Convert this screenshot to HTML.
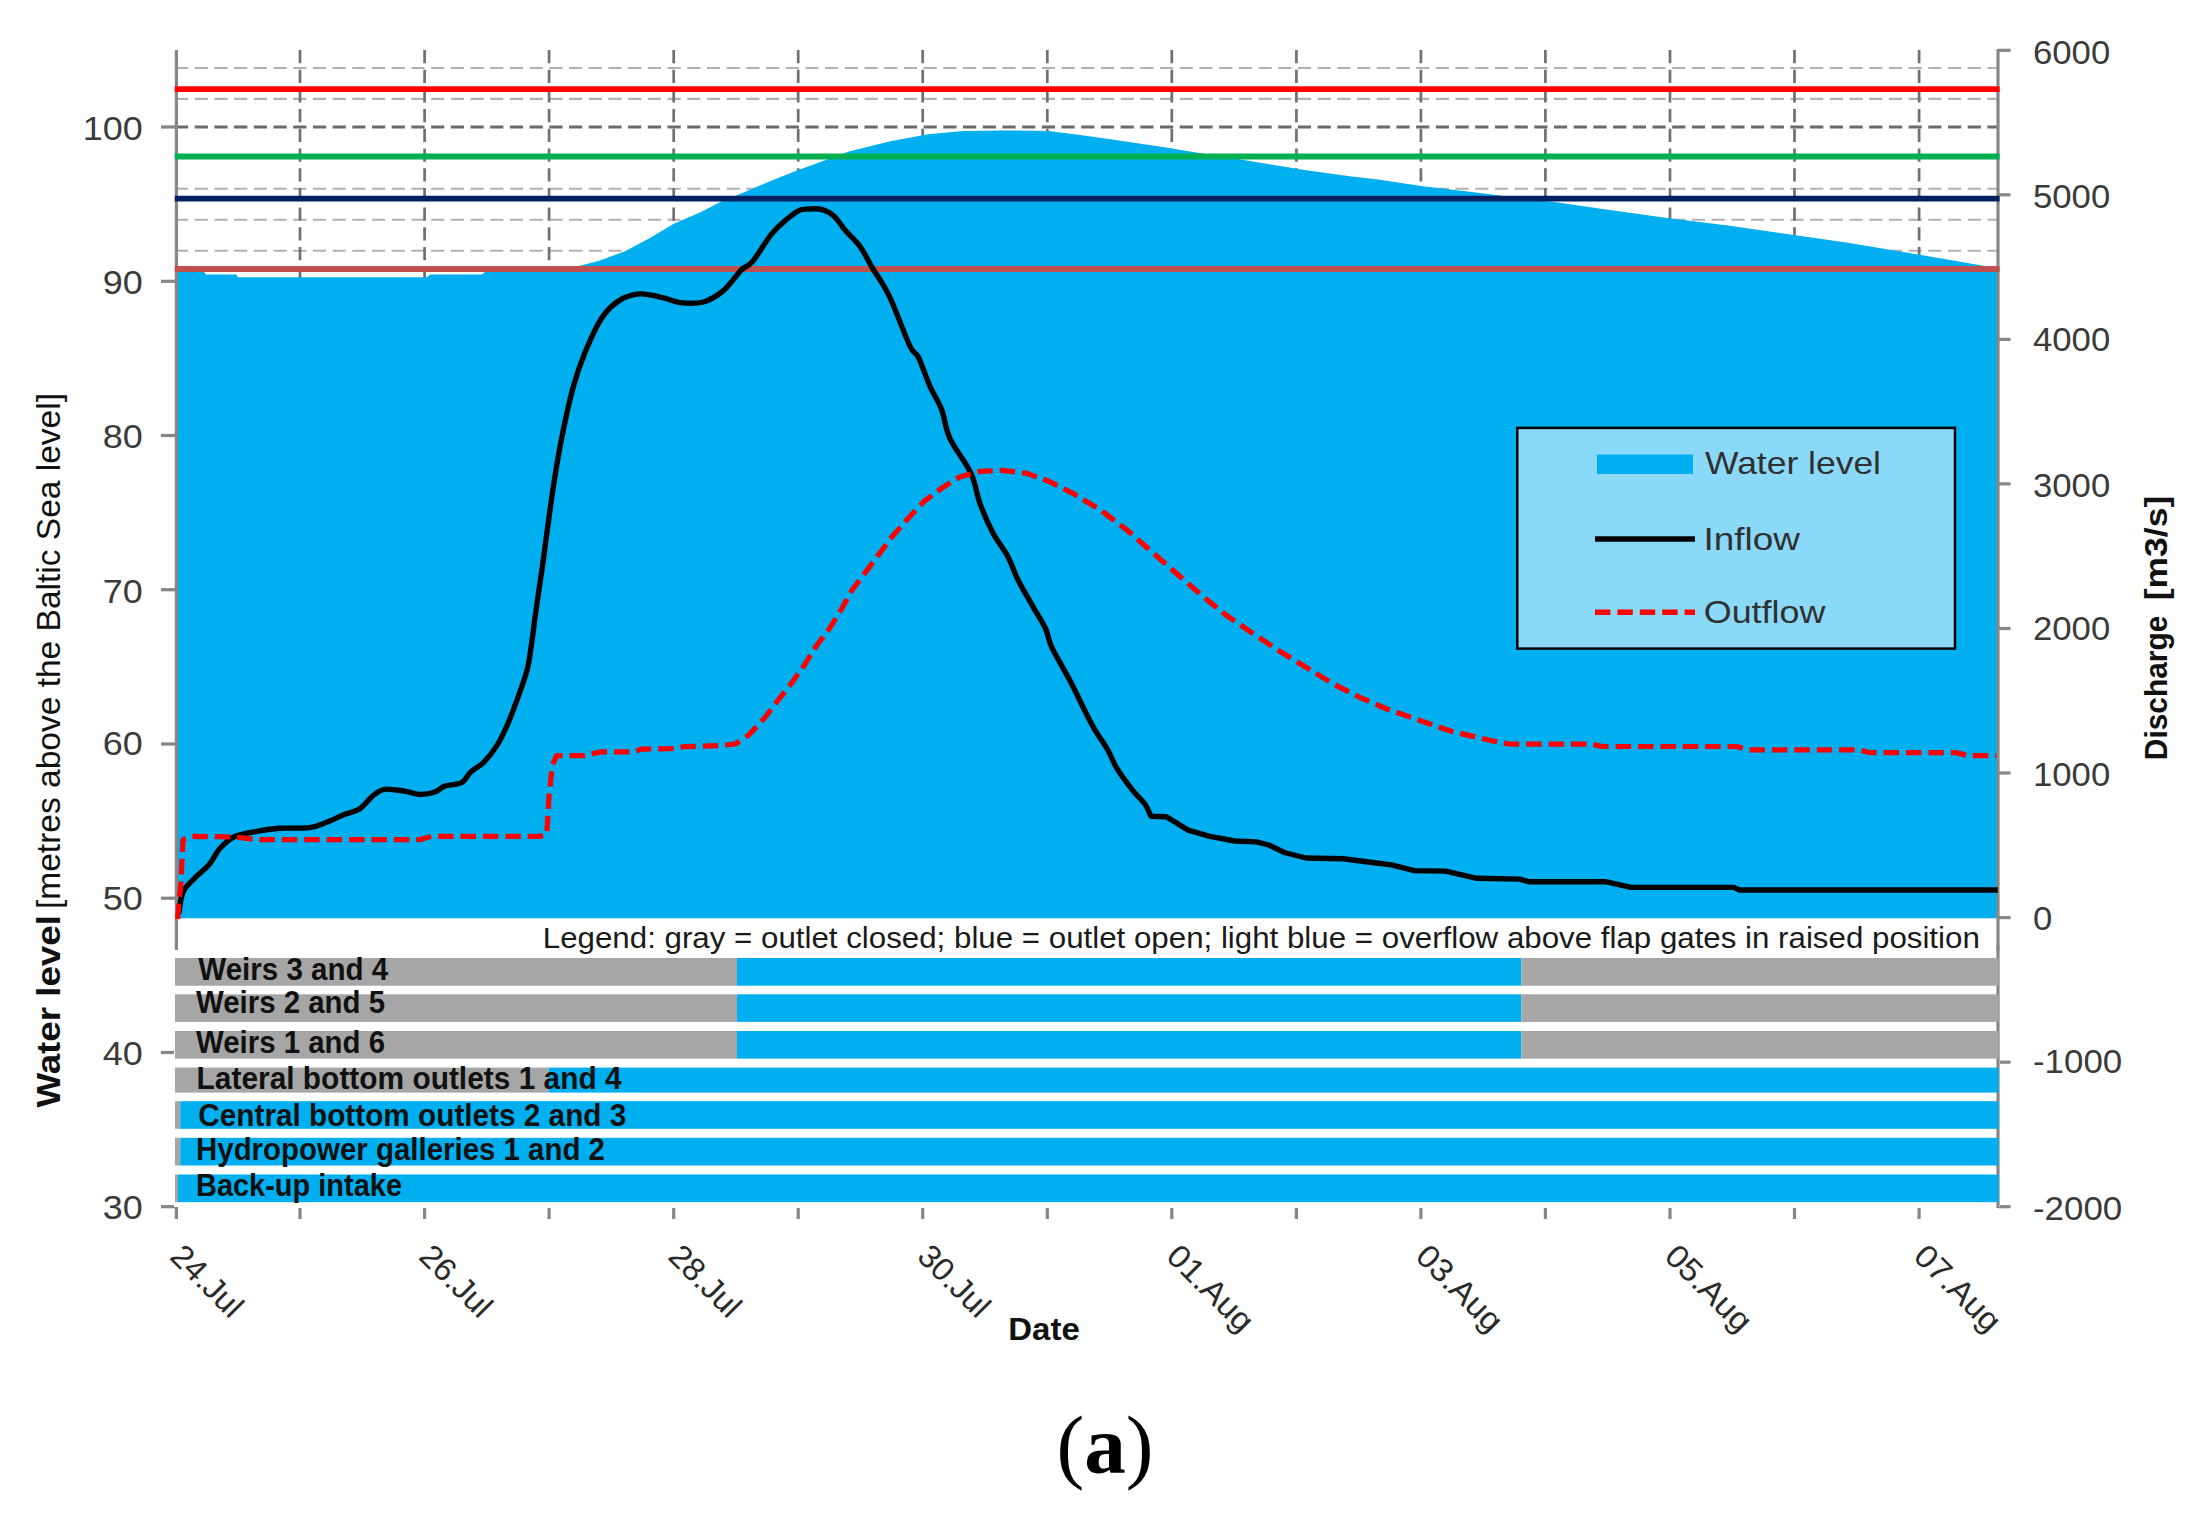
<!DOCTYPE html>
<html lang="en"><head><meta charset="utf-8"><title>Reservoir flood routing chart (a)</title>
<style>html,body{margin:0;padding:0;background:#fff}svg{display:block}text{font-family:'Liberation Sans', sans-serif}</style>
</head><body>
<svg width="2208" height="1515" viewBox="0 0 2208 1515">
<rect width="2208" height="1515" fill="#fff"/>
<g fill="none" stroke-dasharray="13.2 6.5">
<line x1="175" x2="1997" y1="68.0" y2="68.0" stroke="#B0B0B6" stroke-width="2.1"/>
<line x1="175" x2="1997" y1="98.9" y2="98.9" stroke="#B0B0B6" stroke-width="2.1"/>
<line x1="175" x2="1997" y1="157.9" y2="157.9" stroke="#B0B0B6" stroke-width="2.1"/>
<line x1="175" x2="1997" y1="188.8" y2="188.8" stroke="#B0B0B6" stroke-width="2.1"/>
<line x1="175" x2="1997" y1="219.7" y2="219.7" stroke="#B0B0B6" stroke-width="2.1"/>
<line x1="175" x2="1997" y1="250.7" y2="250.7" stroke="#B0B0B6" stroke-width="2.1"/>
<line x1="175" x2="1997" y1="127" y2="127" stroke="#6A6A6A" stroke-width="2.9"/>
<line x1="300.0" x2="300.0" y1="50" y2="290" stroke="#707070" stroke-width="2.7"/>
<line x1="424.6" x2="424.6" y1="50" y2="290" stroke="#707070" stroke-width="2.7"/>
<line x1="549.1" x2="549.1" y1="50" y2="290" stroke="#707070" stroke-width="2.7"/>
<line x1="673.7" x2="673.7" y1="50" y2="290" stroke="#707070" stroke-width="2.7"/>
<line x1="798.2" x2="798.2" y1="50" y2="290" stroke="#707070" stroke-width="2.7"/>
<line x1="922.7" x2="922.7" y1="50" y2="290" stroke="#707070" stroke-width="2.7"/>
<line x1="1047.3" x2="1047.3" y1="50" y2="290" stroke="#707070" stroke-width="2.7"/>
<line x1="1171.8" x2="1171.8" y1="50" y2="290" stroke="#707070" stroke-width="2.7"/>
<line x1="1296.4" x2="1296.4" y1="50" y2="290" stroke="#707070" stroke-width="2.7"/>
<line x1="1420.9" x2="1420.9" y1="50" y2="290" stroke="#707070" stroke-width="2.7"/>
<line x1="1545.4" x2="1545.4" y1="50" y2="290" stroke="#707070" stroke-width="2.7"/>
<line x1="1670.0" x2="1670.0" y1="50" y2="290" stroke="#707070" stroke-width="2.7"/>
<line x1="1794.5" x2="1794.5" y1="50" y2="290" stroke="#707070" stroke-width="2.7"/>
<line x1="1919.1" x2="1919.1" y1="50" y2="290" stroke="#707070" stroke-width="2.7"/>
</g>
<path d="M175.0 272.0L204.0 272.0L206.0 274.5L236.0 274.5L238.0 277.3L427.0 277.3L430.0 274.5L482.0 274.5L485.0 272.0L540.0 271.0L580.0 265.7L600.0 260.5L625.0 251.2L650.0 238.0L674.3 223.6L700.0 212.5L720.8 201.8L741.2 193.5L773.0 180.0L795.1 171.3L849.0 151.4L890.2 141.2L928.3 134.2L963.1 131.1L1004.3 130.4L1048.7 131.1L1080.4 134.9L1112.1 139.6L1159.7 146.6L1194.6 152.3L1245.3 160.2L1302.4 169.7L1349.9 176.2L1380.0 179.8L1422.8 186.2L1465.6 191.3L1494.1 194.8L1559.7 202.7L1602.5 209.0L1671.0 218.4L1728.0 225.6L1793.7 235.0L1847.9 242.7L1907.8 252.7L1982.0 265.5L1999.0 268.5L1999 918.2L175 918.2Z" fill="#00AFF0"/>
<g stroke="#868686" stroke-width="3.2" fill="none">
<line x1="176.4" x2="176.4" y1="50" y2="1219"/>
<line x1="1998" x2="1998" y1="49" y2="1208"/>
<line x1="161" x2="176.4" y1="1206.7" y2="1206.7"/>
<line x1="161" x2="176.4" y1="1052.5" y2="1052.5"/>
<line x1="161" x2="176.4" y1="898.2" y2="898.2"/>
<line x1="161" x2="176.4" y1="744.0" y2="744.0"/>
<line x1="161" x2="176.4" y1="589.7" y2="589.7"/>
<line x1="161" x2="176.4" y1="435.5" y2="435.5"/>
<line x1="161" x2="176.4" y1="281.3" y2="281.3"/>
<line x1="161" x2="176.4" y1="127.0" y2="127.0"/>
<line x1="1998" x2="2010.5" y1="1206.7" y2="1206.7"/>
<line x1="1998" x2="2010.5" y1="1062.2" y2="1062.2"/>
<line x1="1998" x2="2010.5" y1="917.6" y2="917.6"/>
<line x1="1998" x2="2010.5" y1="773.0" y2="773.0"/>
<line x1="1998" x2="2010.5" y1="628.5" y2="628.5"/>
<line x1="1998" x2="2010.5" y1="483.9" y2="483.9"/>
<line x1="1998" x2="2010.5" y1="339.4" y2="339.4"/>
<line x1="1998" x2="2010.5" y1="194.8" y2="194.8"/>
<line x1="1998" x2="2010.5" y1="50.3" y2="50.3"/>
<line x1="300.0" x2="300.0" y1="1208" y2="1219"/>
<line x1="424.6" x2="424.6" y1="1208" y2="1219"/>
<line x1="549.1" x2="549.1" y1="1208" y2="1219"/>
<line x1="673.7" x2="673.7" y1="1208" y2="1219"/>
<line x1="798.2" x2="798.2" y1="1208" y2="1219"/>
<line x1="922.7" x2="922.7" y1="1208" y2="1219"/>
<line x1="1047.3" x2="1047.3" y1="1208" y2="1219"/>
<line x1="1171.8" x2="1171.8" y1="1208" y2="1219"/>
<line x1="1296.4" x2="1296.4" y1="1208" y2="1219"/>
<line x1="1420.9" x2="1420.9" y1="1208" y2="1219"/>
<line x1="1545.4" x2="1545.4" y1="1208" y2="1219"/>
<line x1="1670.0" x2="1670.0" y1="1208" y2="1219"/>
<line x1="1794.5" x2="1794.5" y1="1208" y2="1219"/>
<line x1="1919.1" x2="1919.1" y1="1208" y2="1219"/>
</g>
<g fill="none" stroke-width="5.8">
<line x1="174.8" x2="1999.6" y1="89.2" y2="89.2" stroke="#FF0000"/>
<line x1="174.8" x2="1999.6" y1="156.5" y2="156.5" stroke="#00B050"/>
<line x1="174.8" x2="1999.6" y1="198.7" y2="198.7" stroke="#002060"/>
<line x1="174.8" x2="1999.6" y1="269" y2="269" stroke="#C0504D"/>
</g>
<rect x="174" y="950" width="1826" height="257" fill="#fff"/>
<line x1="1998" x2="1998" y1="945" y2="1208" stroke="#868686" stroke-width="3.2"/>
<rect x="175.0" y="958.0" width="562.0" height="27.7" fill="#A6A6A6"/>
<rect x="737.0" y="958.0" width="784.5" height="27.7" fill="#00AFF0"/>
<rect x="1521.5" y="958.0" width="477.1" height="27.7" fill="#A6A6A6"/>
<rect x="175.0" y="994.3" width="562.0" height="27.6" fill="#A6A6A6"/>
<rect x="737.0" y="994.3" width="784.5" height="27.6" fill="#00AFF0"/>
<rect x="1521.5" y="994.3" width="477.1" height="27.6" fill="#A6A6A6"/>
<rect x="175.0" y="1031.0" width="562.0" height="27.6" fill="#A6A6A6"/>
<rect x="737.0" y="1031.0" width="784.5" height="27.6" fill="#00AFF0"/>
<rect x="1521.5" y="1031.0" width="477.1" height="27.6" fill="#A6A6A6"/>
<rect x="175.0" y="1067.6" width="373.6" height="25.0" fill="#A6A6A6"/>
<rect x="548.6" y="1067.6" width="1450.0" height="25.0" fill="#00AFF0"/>
<rect x="175.0" y="1101.2" width="5.2" height="27.6" fill="#A6A6A6"/>
<rect x="180.2" y="1101.2" width="1818.4" height="27.6" fill="#00AFF0"/>
<rect x="175.0" y="1137.8" width="5.2" height="27.7" fill="#A6A6A6"/>
<rect x="180.2" y="1137.8" width="1818.4" height="27.7" fill="#00AFF0"/>
<rect x="175.0" y="1174.5" width="3.0" height="27.7" fill="#A6A6A6"/>
<rect x="178.0" y="1174.5" width="1820.6" height="27.7" fill="#00AFF0"/>
<path d="M178.7 913.7C179.4 910.1 180.5 897.7 183.1 891.9C185.7 886.1 189.7 883.3 194.0 878.8C198.3 874.2 204.8 869.7 209.2 864.6C213.5 859.5 215.8 853.0 220.1 848.3C224.4 843.6 229.1 839.1 235.3 836.3C241.5 833.5 249.8 832.6 257.1 831.3C264.4 830.0 270.2 828.9 278.9 828.3C287.6 827.7 301.4 828.6 309.4 827.6C317.4 826.6 321.0 824.4 326.8 822.2C332.6 820.0 338.9 816.7 344.3 814.5C349.8 812.3 354.8 812.2 359.5 809.1C364.2 806.0 368.6 799.3 372.6 796.0C376.6 792.7 379.5 790.5 383.5 789.5C387.5 788.5 392.1 789.6 396.5 790.0C400.9 790.4 405.6 791.4 409.6 792.1C413.6 792.9 416.1 794.6 420.5 794.5C424.9 794.4 431.7 793.1 435.7 791.7C439.7 790.3 440.1 787.7 444.5 786.2C448.9 784.7 457.5 784.9 461.9 782.5C466.2 780.1 467.0 775.5 470.6 772.1C474.2 768.7 479.4 766.7 483.7 762.3C488.0 757.9 492.7 752.2 496.7 745.9C500.7 739.5 504.0 732.6 507.6 724.2C511.2 715.9 515.2 704.9 518.5 695.8C521.8 686.7 525.0 678.4 527.2 669.7C529.4 661.0 530.2 652.9 531.6 643.6C533.0 634.3 533.5 628.3 535.5 614.0C537.5 599.7 540.8 577.7 543.6 557.7C546.4 537.7 549.4 513.2 552.3 493.8C555.2 474.4 557.6 458.9 561.0 441.5C564.4 424.1 568.7 403.7 572.6 389.2C576.5 374.7 579.4 366.2 584.3 354.3C589.1 342.4 595.9 326.9 601.7 318.0C607.5 309.1 612.8 304.6 619.1 300.6C625.4 296.6 632.2 294.4 639.5 293.9C646.8 293.4 655.9 296.2 662.7 297.7C669.5 299.1 673.3 301.9 680.1 302.6C686.9 303.3 696.1 304.0 703.4 302.0C710.7 300.0 717.4 295.7 723.7 290.4C730.0 285.1 736.2 275.0 741.1 270.1C746.0 265.2 747.5 267.6 752.8 261.3C758.1 255.0 765.8 240.5 773.1 232.3C780.4 224.1 790.6 215.9 796.4 212.0C802.2 208.1 803.6 209.4 808.0 209.0C812.4 208.6 818.1 208.4 822.5 209.6C826.9 210.8 830.2 212.8 834.1 216.3C838.0 219.8 841.3 225.7 845.7 230.8C850.1 235.9 855.9 240.7 860.3 246.8C864.7 252.9 867.1 259.0 871.9 267.2C876.7 275.4 883.0 283.1 889.3 296.2C895.6 309.3 904.9 335.4 909.7 345.6C914.6 355.8 915.0 350.4 918.4 357.2C921.8 364.0 926.1 377.6 930.0 386.3C933.9 395.0 938.3 400.8 941.6 409.5C944.9 418.2 945.1 428.0 950.0 438.6C954.9 449.2 966.0 462.4 971.0 473.4C976.0 484.4 976.7 494.6 980.3 504.4C983.9 514.2 988.1 523.6 992.7 532.4C997.4 541.2 1004.1 549.5 1008.2 557.2C1012.3 565.0 1013.4 570.6 1017.5 578.9C1021.6 587.2 1028.4 598.5 1033.1 606.8C1037.8 615.1 1042.4 621.8 1045.5 628.5C1048.6 635.2 1047.6 638.3 1051.7 647.1C1055.8 655.9 1063.6 668.4 1070.3 681.3C1077.0 694.2 1085.8 713.3 1092.0 724.7C1098.2 736.1 1103.4 742.3 1107.5 749.5C1111.6 756.7 1112.7 761.4 1116.8 768.1C1120.9 774.8 1127.6 783.8 1132.3 789.8C1137.0 795.8 1141.6 799.4 1144.7 803.8C1147.8 808.2 1149.9 814.1 1150.9 816.2L1166.4 816.8L1188.1 830.1L1209.9 836.3L1234.7 841.0L1256.4 841.9L1268.8 845.0L1284.3 852.5L1306.0 858.0L1343.2 858.7L1374.3 862.7L1391.4 864.9L1414.2 870.6L1445.6 871.1L1477.0 878.3L1519.8 879.1L1528.4 881.7L1605.4 881.7L1631.1 887.4L1733.8 887.4L1739.5 890.0L1997.7 890.0" fill="none" stroke="#000" stroke-width="5.4" stroke-linejoin="round" stroke-linecap="butt"/>
<path d="M177.6 919.0L180.9 883.0L183.0 839.6L191.8 836.3L235.0 837.0L257.0 839.6L420.5 839.6L431.4 836.3L540.3 836.3L546.8 834.2L549.0 796.0L552.3 765.5L556.6 755.7L583.9 755.7L600.6 751.9L634.2 751.9L641.0 749.2L674.6 748.5L683.6 746.7L719.5 745.6L735.2 744.0L748.7 735.1L764.4 718.2L777.9 700.3L791.3 683.5L804.8 664.4L816.0 646.4L829.5 628.5L840.7 610.5L851.9 590.3L865.4 572.4L878.8 554.4L892.3 536.5L908.0 518.5L923.7 501.7L941.7 488.2L959.6 477.0L979.8 471.4L1002.0 470.3L1026.9 473.4L1048.6 481.2L1073.4 493.6L1101.3 510.6L1126.1 529.3L1150.9 551.0L1175.7 572.7L1200.6 594.4L1225.4 614.6L1250.2 631.6L1278.1 650.2L1306.0 667.3L1333.9 684.3L1358.7 696.8L1385.7 708.5L1414.2 718.5L1451.3 731.3L1494.1 741.3L1511.2 744.2L1591.1 744.2L1602.6 746.5L1736.7 746.5L1748.1 749.9L1859.3 749.9L1870.8 752.7L1956.4 752.7L1967.8 755.6L1996.3 755.6" fill="none" stroke="#FF0000" stroke-width="5.2" stroke-linejoin="round" stroke-dasharray="15.4 7"/>
<rect x="1517.3" y="427.9" width="437.7" height="220.7" fill="#8BD9F8" stroke="#000" stroke-width="2.5"/>
<rect x="1597" y="454.5" width="96" height="19.5" fill="#00AFF0"/>
<line x1="1595" x2="1695" y1="539" y2="539" stroke="#000" stroke-width="5.4"/>
<line x1="1595" x2="1695" y1="612.3" y2="612.3" stroke="#FF0000" stroke-width="5.4" stroke-dasharray="15.4 7"/>
<text x="1705.0" y="473.5" font-size="31.6" text-anchor="start" font-weight="normal" fill="#303030" textLength="176.0" lengthAdjust="spacingAndGlyphs">Water level</text>
<text x="1703.5" y="549.8" font-size="31.6" text-anchor="start" font-weight="normal" fill="#303030" textLength="96.5" lengthAdjust="spacingAndGlyphs">Inflow</text>
<text x="1703.8" y="622.6" font-size="31.6" text-anchor="start" font-weight="normal" fill="#303030" textLength="121.5" lengthAdjust="spacingAndGlyphs">Outflow</text>
<text x="142.7" y="1219.1" font-size="32.4" text-anchor="end" font-weight="normal" fill="#3a3a3a" textLength="40.0" lengthAdjust="spacingAndGlyphs">30</text>
<text x="142.7" y="1065.0" font-size="32.4" text-anchor="end" font-weight="normal" fill="#3a3a3a" textLength="40.0" lengthAdjust="spacingAndGlyphs">40</text>
<text x="142.7" y="909.6" font-size="32.4" text-anchor="end" font-weight="normal" fill="#3a3a3a" textLength="40.0" lengthAdjust="spacingAndGlyphs">50</text>
<text x="142.7" y="755.3" font-size="32.4" text-anchor="end" font-weight="normal" fill="#3a3a3a" textLength="40.0" lengthAdjust="spacingAndGlyphs">60</text>
<text x="142.7" y="603.3" font-size="32.4" text-anchor="end" font-weight="normal" fill="#3a3a3a" textLength="40.0" lengthAdjust="spacingAndGlyphs">70</text>
<text x="142.7" y="448.3" font-size="32.4" text-anchor="end" font-weight="normal" fill="#3a3a3a" textLength="40.0" lengthAdjust="spacingAndGlyphs">80</text>
<text x="142.7" y="294.0" font-size="32.4" text-anchor="end" font-weight="normal" fill="#3a3a3a" textLength="40.0" lengthAdjust="spacingAndGlyphs">90</text>
<text x="142.7" y="139.8" font-size="32.4" text-anchor="end" font-weight="normal" fill="#3a3a3a" textLength="60.0" lengthAdjust="spacingAndGlyphs">100</text>
<text x="2033.0" y="1220.3" font-size="32.4" text-anchor="start" font-weight="normal" fill="#3a3a3a" textLength="89.2" lengthAdjust="spacingAndGlyphs">-2000</text>
<text x="2033.0" y="1073.3" font-size="32.4" text-anchor="start" font-weight="normal" fill="#3a3a3a" textLength="89.2" lengthAdjust="spacingAndGlyphs">-1000</text>
<text x="2033.0" y="929.7" font-size="32.4" text-anchor="start" font-weight="normal" fill="#3a3a3a" textLength="19.3" lengthAdjust="spacingAndGlyphs">0</text>
<text x="2033.0" y="785.6" font-size="32.4" text-anchor="start" font-weight="normal" fill="#3a3a3a" textLength="77.2" lengthAdjust="spacingAndGlyphs">1000</text>
<text x="2033.0" y="639.8" font-size="32.4" text-anchor="start" font-weight="normal" fill="#3a3a3a" textLength="77.2" lengthAdjust="spacingAndGlyphs">2000</text>
<text x="2033.0" y="496.5" font-size="32.4" text-anchor="start" font-weight="normal" fill="#3a3a3a" textLength="77.2" lengthAdjust="spacingAndGlyphs">3000</text>
<text x="2033.0" y="351.3" font-size="32.4" text-anchor="start" font-weight="normal" fill="#3a3a3a" textLength="77.2" lengthAdjust="spacingAndGlyphs">4000</text>
<text x="2033.0" y="207.8" font-size="32.4" text-anchor="start" font-weight="normal" fill="#3a3a3a" textLength="77.2" lengthAdjust="spacingAndGlyphs">5000</text>
<text x="2033.0" y="63.9" font-size="32.4" text-anchor="start" font-weight="normal" fill="#3a3a3a" textLength="77.2" lengthAdjust="spacingAndGlyphs">6000</text>
<text transform="translate(168.5 1258.0) rotate(45)" font-size="32.4" fill="#2a2a2a" textLength="87.0" lengthAdjust="spacingAndGlyphs">24.Jul</text>
<text transform="translate(417.6 1258.0) rotate(45)" font-size="32.4" fill="#2a2a2a" textLength="87.0" lengthAdjust="spacingAndGlyphs">26.Jul</text>
<text transform="translate(666.7 1258.0) rotate(45)" font-size="32.4" fill="#2a2a2a" textLength="87.0" lengthAdjust="spacingAndGlyphs">28.Jul</text>
<text transform="translate(915.7 1258.0) rotate(45)" font-size="32.4" fill="#2a2a2a" textLength="87.0" lengthAdjust="spacingAndGlyphs">30.Jul</text>
<text transform="translate(1164.8 1258.0) rotate(45)" font-size="32.4" fill="#2a2a2a" textLength="107.5" lengthAdjust="spacingAndGlyphs">01.Aug</text>
<text transform="translate(1413.9 1258.0) rotate(45)" font-size="32.4" fill="#2a2a2a" textLength="107.5" lengthAdjust="spacingAndGlyphs">03.Aug</text>
<text transform="translate(1663.0 1258.0) rotate(45)" font-size="32.4" fill="#2a2a2a" textLength="107.5" lengthAdjust="spacingAndGlyphs">05.Aug</text>
<text transform="translate(1912.1 1258.0) rotate(45)" font-size="32.4" fill="#2a2a2a" textLength="107.5" lengthAdjust="spacingAndGlyphs">07.Aug</text>
<text x="198.3" y="980.0" font-size="31.6" text-anchor="start" font-weight="bold" fill="#111" textLength="190.0" lengthAdjust="spacingAndGlyphs">Weirs 3 and 4</text>
<text x="196.0" y="1013.3" font-size="31.6" text-anchor="start" font-weight="bold" fill="#111" textLength="189.0" lengthAdjust="spacingAndGlyphs">Weirs 2 and 5</text>
<text x="196.0" y="1052.5" font-size="31.6" text-anchor="start" font-weight="bold" fill="#111" textLength="189.0" lengthAdjust="spacingAndGlyphs">Weirs 1 and 6</text>
<text x="196.6" y="1089.4" font-size="31.6" text-anchor="start" font-weight="bold" fill="#111" textLength="425.0" lengthAdjust="spacingAndGlyphs">Lateral bottom outlets 1 and 4</text>
<text x="198.3" y="1126.0" font-size="31.6" text-anchor="start" font-weight="bold" fill="#111" textLength="428.0" lengthAdjust="spacingAndGlyphs">Central bottom outlets 2 and 3</text>
<text x="196.0" y="1159.6" font-size="31.6" text-anchor="start" font-weight="bold" fill="#111" textLength="409.0" lengthAdjust="spacingAndGlyphs">Hydropower galleries 1 and 2</text>
<text x="196.0" y="1196.3" font-size="31.6" text-anchor="start" font-weight="bold" fill="#111" textLength="206.0" lengthAdjust="spacingAndGlyphs">Back-up intake</text>
<text x="542.8" y="948.3" font-size="29.6" text-anchor="start" font-weight="normal" fill="#1a1a1a" textLength="1437.0" lengthAdjust="spacingAndGlyphs">Legend: gray = outlet closed; blue = outlet open; light blue = overflow above flap gates in raised position</text>
<text transform="translate(60 1107.6) rotate(-90)" font-size="32.4" font-weight="bold" fill="#111" textLength="192.5" lengthAdjust="spacingAndGlyphs">Water level</text>
<text transform="translate(60 909) rotate(-90)" font-size="32.4" fill="#111" textLength="516" lengthAdjust="spacingAndGlyphs">[metres above the Baltic Sea level]</text>
<text transform="translate(2167.3 760.2) rotate(-90)" font-size="31.6" font-weight="bold" fill="#111" textLength="144.5" lengthAdjust="spacingAndGlyphs">Discharge</text>
<text transform="translate(2167.3 600.3) rotate(-90)" font-size="31.6" font-weight="bold" fill="#111" textLength="104.5" lengthAdjust="spacingAndGlyphs">[m3/s]</text>
<text x="1008.3" y="1339.5" font-size="31.4" text-anchor="start" font-weight="bold" fill="#111" textLength="71.5" lengthAdjust="spacingAndGlyphs">Date</text>
<text x="1105" y="1472.5" font-size="83.2" text-anchor="middle" fill="#000" style="font-family:'Liberation Serif',serif">(<tspan font-weight="bold">a</tspan>)</text>
</svg>
</body></html>
